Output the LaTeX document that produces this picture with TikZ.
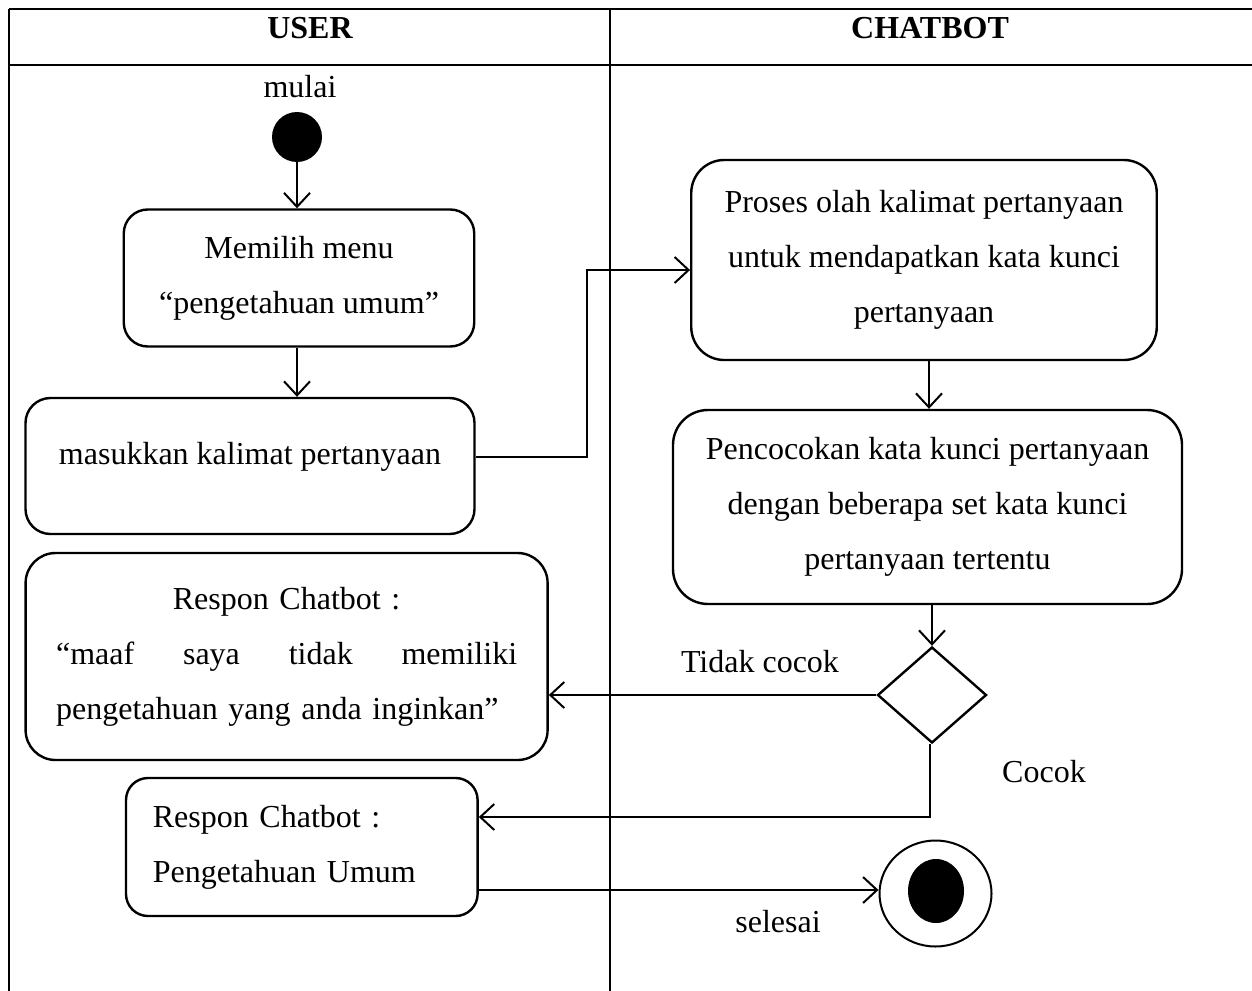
\documentclass[tikz,border=0pt]{standalone}
\usepackage{fontspec}
\setmainfont{Liberation Serif}
\usetikzlibrary{arrows.meta,shapes.geometric}
\begin{document}
\begin{tikzpicture}[x=1pt,y=-1pt,
  lane/.style={line width=2.6pt},
  act/.style={draw,line width=2.4pt,rectangle,inner sep=0pt,align=center,font=\fontsize{32}{55}\selectfont},
  lbl/.style={font=\fontsize{32}{40}\selectfont,inner sep=0pt},
  hdr/.style={font=\fontsize{32}{40}\selectfont\bfseries,inner sep=0pt},
  arr/.style={line width=2pt,-{Straight Barb[length=14pt,width=26pt,line width=2pt]}},
  ln/.style={line width=2.4pt}]
\useasboundingbox (0,0) rectangle (1252,990);
% swimlane table
\draw[lane] (9,9) -- (1262,9);
\draw[lane] (9,65) -- (1262,65);
\draw[lane] (9,9) -- (9,1000);
\draw[lane] (610,9) -- (610,1000);
\node[hdr] (huser) at (310,28) {USER};
\node[hdr] (hbot) at (930,28) {CHATBOT};
% user lane
\node[lbl] (mulai) at (300,87) {mulai};
\node[circle,fill,minimum size=50pt,inner sep=0pt] (start) at (297,137) {};
\node[act,minimum width=350.5pt,minimum height=137pt,rounded corners=24pt] (memilih) at (299,278) {Memilih menu\\“pengetahuan umum”};
\node[act,minimum width=449pt,minimum height=136pt,rounded corners=25pt] (masukkan) at (250,466) {};
\node[lbl] (masukkantxt) at (250,457) {masukkan kalimat pertanyaan};
\node[act,minimum width=522pt,minimum height=207pt,rounded corners=30pt,text width=461pt,align=left] (bigresp) at (286.6,656.5)
  {\leavevmode\makebox[461pt]{Respon Chatbot :}\\\leavevmode\hbox to 461pt{“maaf\hfill saya\hfill tidak\hfill memiliki}\\pengetahuan yang anda inginkan”};
\node[act,minimum width=351.6pt,minimum height=138pt,rounded corners=22pt,text width=298pt,align=left] (penget) at (301.8,847)
  {Respon Chatbot :\\Pengetahuan Umum};
% chatbot lane
\node[act,minimum width=465.5pt,minimum height=200pt,rounded corners=33pt] (proses) at (924,260)
  {Proses olah kalimat pertanyaan\\untuk mendapatkan kata kunci\\pertanyaan};
\node[act,minimum width=509pt,minimum height=194pt,rounded corners=35pt] (pencocokan) at (927.5,507)
  {Pencocokan kata kunci pertanyaan\\dengan beberapa set kata kunci\\pertanyaan tertentu};
\node[diamond,draw,ln,minimum width=109pt,minimum height=96pt,inner sep=0pt] (dec) at (932,695) {};
\node[ellipse,draw,line width=2pt,minimum width=112pt,minimum height=106pt,inner sep=0pt] (end) at (935.5,893.5) {};
\node[ellipse,fill,minimum width=56pt,minimum height=64pt,inner sep=0pt] (endin) at (936,891) {};
\node[lbl] (tidak) at (760,662) {Tidak cocok};
\node[lbl] (cocok) at (1044,772) {Cocok};
\node[lbl] (selesai) at (778,922) {selesai};
\coordinate (c1) at (929,0);
% connectors
\draw[arr] (start) -- (start |- memilih.north);
\draw[arr] (memilih.south -| start) -- (start |- masukkan.north);
\draw[arr] ([yshift=9pt]masukkan.east) -- ++(111,0) |- ([yshift=-10pt]proses.west);
\draw[arr] (proses.south -| c1) -- (pencocokan.north -| c1);
\draw[arr] (pencocokan.south -| dec) -- (dec.north);
\draw[arr] (dec.west) -- (dec.west -| bigresp.east);
\draw[arr] ([xshift=-2pt]dec.south) |- ([yshift=30pt]penget.east);
\draw[arr] ([yshift=-43pt]penget.east) -- ([yshift=-43pt]penget.east -| end.west);
\end{tikzpicture}
\end{document}
